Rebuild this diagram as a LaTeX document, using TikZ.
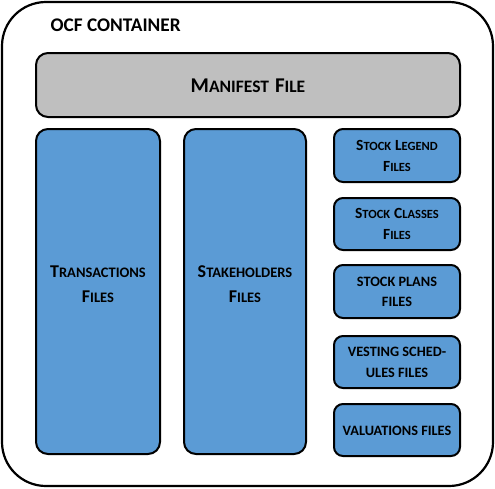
\documentclass[tikz,border=0pt]{standalone}
\usepackage{fontspec}
\setmainfont{Carlito}
\definecolor{boxblue}{HTML}{5B9BD5}
\definecolor{mangray}{HTML}{BFBFBF}
\newcommand\scB[2]{{\fontsize{#1}{#1}\selectfont #2}}
\begin{document}
\begin{tikzpicture}[x=1pt,y=-1pt,
  cont/.style={draw=black,line width=2.2pt,rounded corners=44pt},
  fbox/.style={draw=black,line width=2pt,fill=boxblue,rounded corners=12pt},
  mbox/.style={draw=black,line width=2pt,fill=mangray,rounded corners=12pt},
  lbl/.style={align=center,text=black}]
\useasboundingbox (0,0) rectangle (495,488);
\draw[cont] (2,2) rectangle (493,486);
\node[lbl,anchor=base west,font=\bfseries\fontsize{19.3}{22}\selectfont] (title) at (47,31) {OCF CONTAINER};
\draw[mbox] (36,53) rectangle (460,117);
\node[lbl,font=\bfseries\fontsize{17.5}{21}\selectfont] (man) at (248,86) {\scB{21}{M}\scB{17.5}{ANIFEST}\hspace{2pt} \scB{21}{F}\scB{17.5}{ILE}};
\draw[fbox] (36,129) rectangle (160,454);
\node[lbl,font=\bfseries\fontsize{14.5}{25}\selectfont] (tr) at (98,284) {\scB{18}{T}\scB{14.5}{RANSACTIONS}\\\scB{18}{F}\scB{14.5}{ILES}};
\draw[fbox] (184,129) rectangle (306,454);
\node[lbl,font=\bfseries\fontsize{14.5}{25}\selectfont] (st) at (245,284) {\scB{18}{S}\scB{14.5}{TAKEHOLDERS}\\\scB{18}{F}\scB{14.5}{ILES}};
\draw[fbox,rounded corners=9pt] (334,129) rectangle (460,182);
\node[lbl,font=\bfseries\fontsize{12.5}{21}\selectfont] (sl) at (397,156) {\scB{15.5}{S}\scB{12.5}{TOCK}\hspace{1pt} \scB{15.5}{L}\scB{12.5}{EGEND}\\\scB{15.5}{F}\scB{12.5}{ILES}};
\draw[fbox,rounded corners=9pt] (334,198) rectangle (460,250);
\node[lbl,font=\bfseries\fontsize{12.5}{21}\selectfont] (sc) at (397,224) {\scB{15.5}{S}\scB{12.5}{TOCK}\hspace{1pt} \scB{15.5}{C}\scB{12.5}{LASSES}\\\scB{15.5}{F}\scB{12.5}{ILES}};
\draw[fbox,rounded corners=9pt] (334,265) rectangle (460,318);
\node[lbl,font=\bfseries\fontsize{14.3}{20}\selectfont] (sp) at (397,292) {STOCK PLANS\\FILES};
\draw[fbox,rounded corners=9pt] (334,336) rectangle (460,388);
\node[lbl,font=\bfseries\fontsize{14.3}{21}\selectfont] (vs) at (397,362) {VESTING SCHED-\\ULES FILES};
\draw[fbox,rounded corners=9pt] (334,404) rectangle (460,456);
\node[lbl,font=\bfseries\fontsize{14.3}{21}\selectfont] (va) at (397,431) {VALUATIONS FILES};
\end{tikzpicture}
\end{document}
